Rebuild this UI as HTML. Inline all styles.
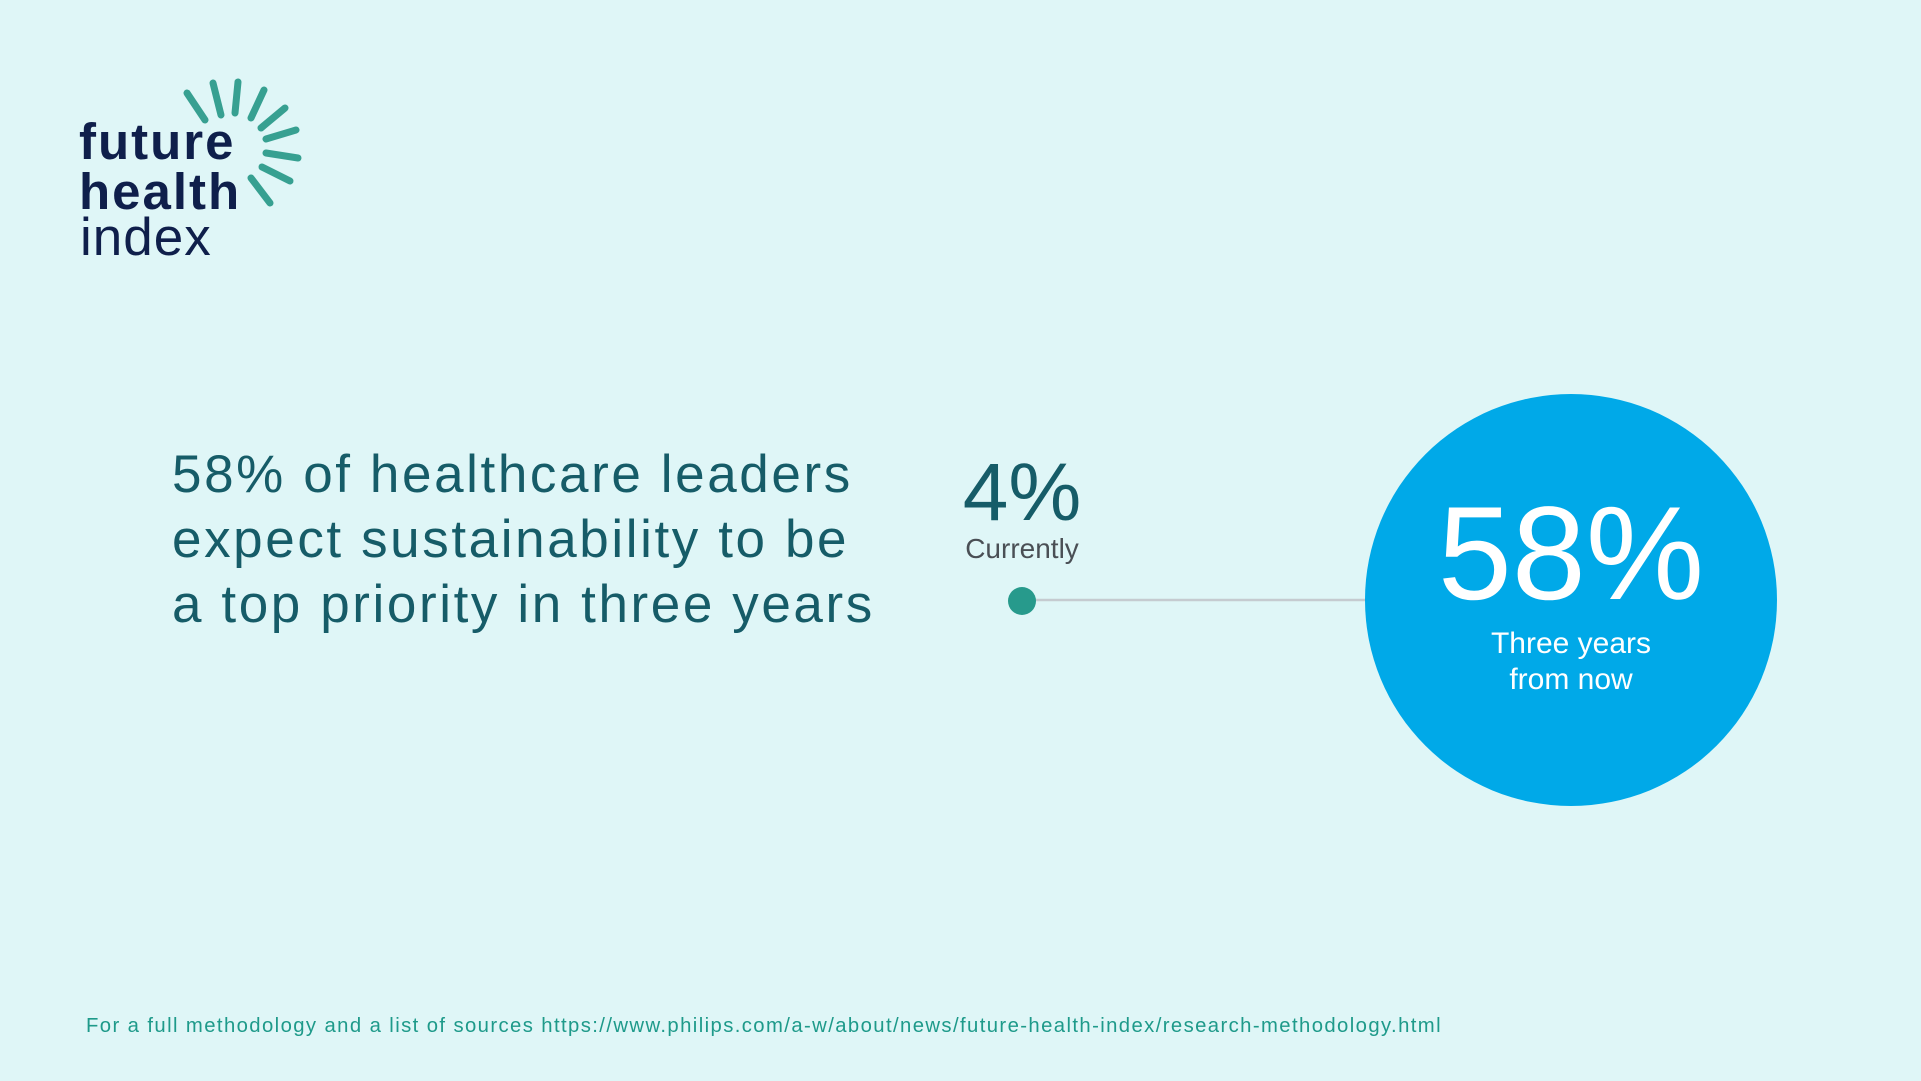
<!DOCTYPE html>
<html><head><meta charset="utf-8"><style>
html,body{margin:0;padding:0}
body{width:1921px;height:1081px;background:#dff6f7;position:relative;overflow:hidden;font-family:"Liberation Sans",sans-serif}
.a{position:absolute;white-space:nowrap}
</style></head><body>
<svg class="a" style="left:0;top:0" width="1921" height="1081">
<g stroke="#2f9c8c" stroke-width="7" stroke-linecap="round" opacity="0.95">
<line x1="187" y1="93" x2="205" y2="120"/>
<line x1="213" y1="83" x2="221" y2="115"/>
<line x1="238" y1="82" x2="235" y2="113"/>
<line x1="264" y1="90" x2="251" y2="118"/>
<line x1="285" y1="108" x2="261" y2="128"/>
<line x1="296" y1="130" x2="266" y2="139"/>
<line x1="298" y1="158" x2="266" y2="153"/>
<line x1="290" y1="181" x2="262" y2="167"/>
<line x1="270" y1="203" x2="251" y2="178"/>
</g>
<line x1="1030" y1="600" x2="1370" y2="600" stroke="#c5cbd0" stroke-width="2.5"/>
<circle cx="1022" cy="601" r="14" fill="#279a8c"/>
<circle cx="1571" cy="600" r="206" fill="#00a9e8"/>
</svg>
<div class="a" style="left:79px;top:117px;font-size:51px;font-weight:bold;color:#0f1f4b;letter-spacing:2px;line-height:50px">future<br>health</div>
<div class="a" style="left:80px;top:212px;font-size:53px;color:#0f1f4b;letter-spacing:1px;line-height:52px">index</div>
<div class="a" style="left:172px;top:442px;font-size:53px;color:#165c68;line-height:65px;letter-spacing:2.6px">58% of healthcare leaders<br>expect sustainability to be<br>a top priority in three years</div>
<div class="a" style="left:922px;top:445px;width:200px;text-align:center;font-size:82px;color:#165c68;line-height:95px">4%</div>
<div class="a" style="left:922px;top:531px;width:200px;text-align:center;font-size:28px;color:#4a4f55;line-height:36px">Currently</div>
<div class="a" style="left:1371px;top:484px;width:400px;text-align:center;font-size:133px;color:#fff;line-height:140px">58%</div>
<div class="a" style="left:1371px;top:626px;width:400px;text-align:center;font-size:30px;color:#fff;line-height:36px">Three years<br>from now</div>
<div class="a" style="left:86px;top:1015px;font-size:20.3px;color:#1e9a8a;letter-spacing:1.4px">For a full methodology and a list of sources https://www.philips.com/a-w/about/news/future-health-index/research-methodology.html</div>
</body></html>
